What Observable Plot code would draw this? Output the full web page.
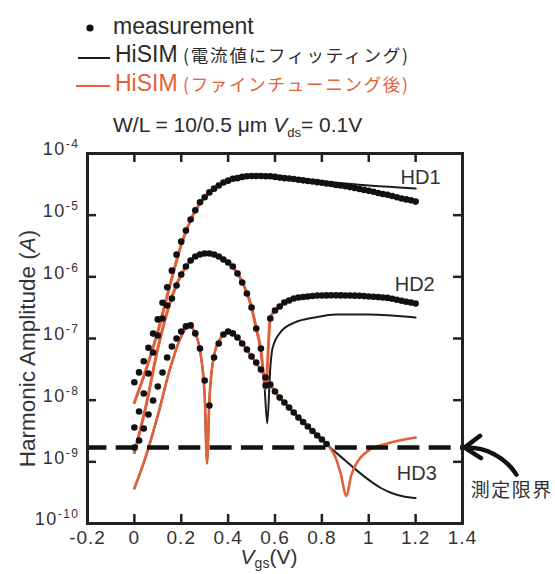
<!DOCTYPE html>
<html><head><meta charset="utf-8">
<script src="https://cdn.jsdelivr.net/npm/d3@7"></script>
<script src="https://cdn.jsdelivr.net/npm/@observablehq/plot@0.6"></script>
<style>
html,body{margin:0;padding:0;background:#fff}
#root{width:555px;height:574px;overflow:hidden;font-family:"Liberation Sans",Arial,Helvetica,sans-serif}
#root svg{display:block}
g[aria-label="x-axis tick label"] text{letter-spacing:1px}
g[aria-label="y-axis tick label"] text{letter-spacing:1.5px}
</style></head>
<body><div id="root"></div>
<script>
// ---------- tick labels & categories ----------
const xTicks = [-0.2, 0, 0.2, 0.4, 0.6, 0.8, 1, 1.2, 1.4];
const yTicks = [1e-10, 1e-9, 1e-8, 1e-7, 1e-6, 1e-5, 1e-4];
const yTickExp = ["-10", "-9", "-8", "-7", "-6", "-5", "-4"];
const seriesNames = ["measurement", "HiSIM (電流値にフィッティング)", "HiSIM (ファインチューニング後)"];
const harmonicNames = ["HD1", "HD2", "HD3"];
const hdLabelV = [1.221, 1.196, 1.205];
const hdLabelA = [4.0e-5, 7.6e-7, 6.35e-10];
const limitLabel = "測定限界";
const measLimit = 1.7e-9;
const limitLabelPos = {v: 1.61, a: 3.4e-10};
const limitArrow = [{v1: 1.63, a1: 6.2e-10, v2: 1.409, a2: 1.7e-9}];
const xLabel = "Vgs(V)";
const yLabel = "Harmonic Amplitude (A)";

// ---------- measurement (Vgs step 0.02 V) ----------
const measV = [0,0.02,0.04,0.06,0.08,0.10,0.12,0.14,0.16,0.18,0.20,0.22,0.24,0.26,0.28,0.30,0.32,0.34,0.36,0.38,0.40,0.42,0.44,0.46,0.48,0.50,0.52,0.54,0.56,0.58,0.60,0.62,0.64,0.66,0.68,0.70,0.72,0.74,0.76,0.78,0.80,0.82,0.84,0.86,0.88,0.90,0.92,0.94,0.96,0.98,1.00,1.02,1.04,1.06,1.08,1.10,1.12,1.14,1.16,1.18,1.20];
const hd1Meas = [1.95e-8,2.82e-8,4.27e-8,7.08e-8,1.20e-7,2.04e-7,3.80e-7,6.76e-7,1.26e-6,2.29e-6,3.72e-6,5.62e-6,8.51e-6,1.20e-5,1.62e-5,1.95e-5,2.34e-5,2.69e-5,3.02e-5,3.39e-5,3.63e-5,3.89e-5,3.98e-5,4.17e-5,4.27e-5,4.32e-5,4.32e-5,4.32e-5,4.27e-5,4.27e-5,4.17e-5,4.07e-5,3.98e-5,3.94e-5,3.85e-5,3.76e-5,3.67e-5,3.59e-5,3.51e-5,3.43e-5,3.35e-5,3.27e-5,3.20e-5,3.09e-5,3.02e-5,2.95e-5,2.85e-5,2.75e-5,2.66e-5,2.57e-5,2.48e-5,2.40e-5,2.29e-5,2.21e-5,2.14e-5,2.04e-5,1.95e-5,1.86e-5,1.80e-5,1.74e-5,1.66e-5];
const hd2Meas = [3.61e-9,6.55e-9,1.28e-8,2.71e-8,5.93e-8,1.12e-7,2.11e-7,3.43e-7,4.46e-7,7.24e-7,1.09e-6,1.47e-6,1.84e-6,2.14e-6,2.30e-6,2.39e-6,2.39e-6,2.30e-6,2.14e-6,1.91e-6,1.71e-6,1.47e-6,1.13e-6,8.09e-7,5.37e-7,3.18e-7,1.45e-7,6.89e-8,1.73e-8,2.11e-7,2.84e-7,3.30e-7,3.84e-7,4.13e-7,4.46e-7,4.62e-7,4.71e-7,4.80e-7,4.89e-7,4.96e-7,4.98e-7,5.00e-7,5.01e-7,5.01e-7,5.00e-7,4.99e-7,4.97e-7,4.95e-7,4.92e-7,4.87e-7,4.80e-7,4.75e-7,4.69e-7,4.62e-7,4.55e-7,4.41e-7,4.26e-7,4.10e-7,3.95e-7,3.82e-7,3.70e-7];
const hd3MeasV = [0,0.02,0.04,0.06,0.08,0.10,0.12,0.14,0.16,0.18,0.20,0.22,0.24,0.26,0.28,0.30,0.32,0.34,0.36,0.38,0.40,0.42,0.44,0.46,0.48,0.50,0.52,0.54,0.56,0.58,0.60,0.62,0.64,0.66,0.68,0.70,0.72,0.74,0.76,0.78,0.80,0.82];
const hd3Meas = [1.71e-9,2.22e-9,3.48e-9,5.86e-9,9.89e-9,1.67e-8,2.81e-8,4.92e-8,7.41e-8,1.00e-7,1.30e-7,1.57e-7,1.63e-7,1.21e-7,6.89e-8,2.08e-8,8.20e-9,4.92e-8,8.30e-8,1.16e-7,1.30e-7,1.21e-7,1.04e-7,8.30e-8,6.64e-8,5.11e-8,4.08e-8,3.14e-8,2.33e-8,1.79e-8,1.38e-8,1.10e-8,9.16e-9,7.60e-9,6.31e-9,5.24e-9,4.43e-9,3.74e-9,3.16e-9,2.67e-9,2.30e-9,1.95e-9];

// ---------- HiSIM fitted to current (black) ----------
const hd1FitV = [0,0.05,0.1,0.15,0.2,0.25,0.3,0.35,0.4,0.45,0.5,0.6,0.7,0.8,0.9,1.0,1.1,1.2];
const hd1Fit = [9.1e-9,3.16e-8,1.29e-7,6.9e-7,3.3e-6,1.0e-5,1.95e-5,2.88e-5,3.63e-5,4.07e-5,4.32e-5,4.17e-5,3.78e-5,3.52e-5,3.27e-5,3.03e-5,2.86e-5,2.70e-5];
const hd2FitV = [0,0.05,0.1,0.15,0.2,0.25,0.3,0.35,0.4,0.45,0.5,0.52,0.54,0.555,0.567,0.58,0.59,0.63,0.685,0.77,0.86,1.0,1.2];
const hd2Fit = [1.41e-9,8.2e-9,6.9e-8,3.6e-7,1.09e-6,1.99e-6,2.39e-6,2.22e-6,1.71e-6,9.8e-7,3.18e-7,1.45e-7,5.93e-8,1.73e-8,4.2e-9,3.39e-8,7.1e-8,1.35e-7,1.82e-7,2.19e-7,2.45e-7,2.45e-7,2.19e-7];
const hd3FitV = [0,0.05,0.1,0.15,0.2,0.23,0.26,0.28,0.3,0.31,0.32,0.34,0.37,0.4,0.45,0.5,0.55,0.6,0.65,0.7,0.75,0.8,0.85,0.9,0.95,1.0,1.05,1.1,1.15,1.2];
const hd3Fit = [3.7e-10,1.26e-9,5.65e-9,3.03e-8,1.08e-7,1.63e-7,1.21e-7,6.4e-8,1.19e-8,9.4e-10,9.9e-9,5.3e-8,1.04e-7,1.30e-7,9.3e-8,5.11e-8,2.71e-8,1.38e-8,8.3e-9,5.24e-9,3.48e-9,2.30e-9,1.53e-9,1.05e-9,7.2e-10,5.1e-10,3.8e-10,3.1e-10,2.75e-10,2.6e-10];

// ---------- HiSIM after fine tuning (orange) ----------
const hd1TunedV = [0,0.05,0.1,0.15,0.2,0.25,0.3,0.35,0.4,0.45,0.5,0.6,0.7,0.8,0.9,1.0,1.1,1.2];
const hd1Tuned = [9.1e-9,3.16e-8,1.29e-7,6.9e-7,3.3e-6,1.0e-5,1.95e-5,2.88e-5,3.63e-5,4.07e-5,4.32e-5,4.17e-5,3.76e-5,3.35e-5,2.95e-5,2.48e-5,2.04e-5,1.66e-5];
const hd2TunedV = [0,0.05,0.1,0.15,0.2,0.25,0.3,0.35,0.4,0.45,0.5,0.52,0.54,0.56,0.58,0.6,0.65,0.7,0.8,0.9,1.0,1.1,1.2];
const hd2Tuned = [1.41e-9,8.2e-9,6.9e-8,3.6e-7,1.09e-6,1.99e-6,2.39e-6,2.22e-6,1.71e-6,9.8e-7,3.18e-7,1.45e-7,6.6e-8,1.5e-8,2.19e-7,2.84e-7,3.98e-7,4.62e-7,4.98e-7,4.99e-7,4.80e-7,4.41e-7,3.70e-7];
const hd3TunedV = [0,0.05,0.1,0.15,0.2,0.23,0.26,0.28,0.3,0.31,0.32,0.34,0.37,0.4,0.45,0.5,0.55,0.6,0.65,0.7,0.75,0.8,0.834,0.86,0.88,0.905,0.925,0.95,1.0,1.08,1.2];
const hd3Tuned = [3.7e-10,1.26e-9,5.65e-9,3.03e-8,1.08e-7,1.63e-7,1.21e-7,6.4e-8,1.19e-8,9.4e-10,9.9e-9,5.3e-8,1.04e-7,1.30e-7,9.3e-8,5.11e-8,2.71e-8,1.38e-8,8.3e-9,5.24e-9,3.48e-9,2.30e-9,1.71e-9,1.13e-9,6.5e-10,2.8e-10,6.0e-10,9.7e-10,1.53e-9,1.98e-9,2.48e-9];

// ---------- styling ----------
const colors = {meas: "#111111", fit: "#1c1c1c", tuned: "#e2603a", text: "#2a2a2a"};
const cjk = '"Noto Sans CJK JP", "Noto Sans CJK SC", sans-serif';

const root = d3.select("#root");

// ---------- legend (above the plot) ----------
const leg = root.append("svg").attr("width", 555).attr("height", 138).style("overflow", "visible");
leg.append("circle").attr("cx", 90).attr("cy", 28).attr("r", 3.6).attr("fill", colors.meas);
leg.append("text").attr("x", 113).attr("y", 34).attr("font-size", 23).attr("fill", colors.text).text(seriesNames[0]);
[1, 2].forEach(i => {
  const base = i === 1 ? 62 : 91, ly = i === 1 ? 58 : 86;
  const col = i === 1 ? colors.text : colors.tuned;
  leg.append("line").attr("x1", i === 1 ? 78 : 76).attr("x2", 110).attr("y1", ly).attr("y2", ly)
    .attr("stroke", i === 1 ? colors.fit : colors.tuned).attr("stroke-width", 2);
  const name = seriesNames[i], k = name.indexOf(" (");
  leg.append("text").attr("x", 115).attr("y", base).attr("font-size", 23).attr("fill", col).text(name.slice(0, k));
  leg.append("text").attr("x", 183).attr("y", base).attr("font-size", 17.5).attr("font-family", cjk)
    .attr("fill", col).attr("textLength", 225).attr("lengthAdjust", "spacing").text(name.slice(k + 1));
});
const cond = leg.append("text").attr("x", 113).attr("y", 132).attr("font-size", 21).attr("fill", colors.text);
cond.append("tspan").text("W/L = 10/0.5 μm ");
cond.append("tspan").attr("font-style", "italic").text("V");
cond.append("tspan").attr("font-size", 13).attr("dy", 5).text("ds");
cond.append("tspan").attr("dy", -5).text("= 0.1V");

// ---------- plot ----------
const zip = (vs, as) => vs.map((v, i) => ({v, a: as[i]}));
const W = 555, H = 436, mL = 87, mR = 93, mT = 15, mB = 51;
const fw = W - mL - mR, fh = H - mT - mB, tk = 9;
const innerX = xTicks.slice(1, -1), innerY = yTicks.slice(1, -1);
const lineOpt = (stroke, sw) => ({x: "v", y: "a", stroke, strokeWidth: sw, curve: "monotone-x"});
const dotOpt = {x: "v", y: "a", r: 3.3, fill: colors.meas};

const chart = Plot.plot({
  width: W, height: H, marginLeft: mL, marginRight: mR, marginTop: mT, marginBottom: mB,
  style: {background: "transparent", color: "#333", fontFamily: '"Liberation Sans", Arial, sans-serif', overflow: "visible"},
  x: {domain: [xTicks[0], xTicks[xTicks.length - 1]]},
  y: {type: "log", domain: [yTicks[0], yTicks[yTicks.length - 1]]},
  marks: [
    Plot.tickX(innerX, {x: d => d, insetTop: fh - tk, stroke: "#222", strokeWidth: 2.5}),
    Plot.tickX(innerX, {x: d => d, insetBottom: fh - tk, stroke: "#222", strokeWidth: 2.5}),
    Plot.tickY(innerY, {y: d => d, insetRight: fw - tk, stroke: "#222", strokeWidth: 2.5}),
    Plot.tickY(innerY, {y: d => d, insetLeft: fw - tk, stroke: "#222", strokeWidth: 2.5}),
    Plot.axisX({ticks: xTicks, tickSize: 0, tickPadding: 7, tickFormat: d => String(d), fontSize: 19, label: null}),
    Plot.axisY({ticks: yTicks, tickSize: 0, tickPadding: 8, tickFormat: d => "10^" + yTickExp[yTicks.indexOf(d)], fontSize: 18, dy: -4, label: null}),
    Plot.line(zip(hd1FitV, hd1Fit), lineOpt(colors.fit, 2)),
    Plot.line(zip(hd2FitV, hd2Fit), lineOpt(colors.fit, 2)),
    Plot.line(zip(hd3FitV, hd3Fit), lineOpt(colors.fit, 2)),
    Plot.line(zip(hd1TunedV, hd1Tuned), lineOpt(colors.tuned, 3)),
    Plot.line(zip(hd2TunedV, hd2Tuned), lineOpt(colors.tuned, 3)),
    Plot.line(zip(hd3TunedV, hd3Tuned), lineOpt(colors.tuned, 2.6)),
    Plot.ruleY([measLimit], {stroke: "#111", strokeWidth: 4.5, strokeDasharray: "22,9.3", strokeDashoffset: 2.6}),
    Plot.dot(zip(measV, hd1Meas), dotOpt),
    Plot.dot(zip(measV, hd2Meas), dotOpt),
    Plot.dot(zip(hd3MeasV, hd3Meas), dotOpt),
    Plot.frame({stroke: "#222", strokeWidth: 3}),
    Plot.text(harmonicNames, {x: (d, i) => hdLabelV[i], y: (d, i) => hdLabelA[i], text: d => d, fontSize: 20, fill: "#333"}),
    Plot.text([limitLabel], {x: () => limitLabelPos.v, y: () => limitLabelPos.a, text: d => d, fontSize: 19, fontFamily: cjk, fill: "#333"}),
    Plot.arrow(limitArrow, {x1: d => d.v1, y1: d => d.a1, x2: d => d.v2, y2: d => d.a2, bend: -30, stroke: "#111", strokeWidth: 4.5, headLength: 16, headAngle: 70}),
    Plot.text([xLabel], {frameAnchor: "bottom", textAnchor: "middle", lineAnchor: "middle", dx: -6, dy: 34, text: d => d, fontSize: 21, fill: "#333"}),
    Plot.text([yLabel], {frameAnchor: "left", textAnchor: "middle", lineAnchor: "middle", rotate: -90, dx: -60, dy: 10, text: d => d, fontSize: 22.5, fill: "#333"})
  ]
});
root.node().appendChild(chart);

// ---------- rich text for labels ----------
const s = d3.select(chart);
const byText = str => s.selectAll("text").filter(function() { return this.textContent === str; });
s.selectAll('g[aria-label="y-axis tick label"] text').each(function() {
  const [base, exp] = this.textContent.split("^");
  const t = d3.select(this); t.text(null);
  t.append("tspan").text(base);
  t.append("tspan").attr("dy", -7).attr("font-size", "12px").text(exp);
});
byText(xLabel).each(function() {
  const t = d3.select(this); t.text(null);
  t.append("tspan").attr("font-style", "italic").text("V");
  t.append("tspan").attr("font-size", "14px").attr("dy", 4).text("gs");
  t.append("tspan").attr("dy", -4).text("(V)");
});
byText(yLabel).each(function() {
  const t = d3.select(this); t.text(null);
  t.append("tspan").text("Harmonic Amplitude (");
  t.append("tspan").attr("font-style", "italic").text("A");
  t.append("tspan").text(")");
});
byText(limitLabel).style("letter-spacing", "1.5px");
</script></body></html>
